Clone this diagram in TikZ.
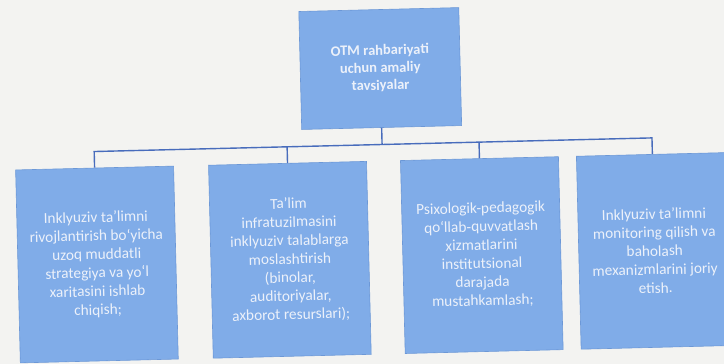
\documentclass[tikz,border=0pt]{standalone}
\usepackage{fontspec}
\setmainfont{Carlito}
\definecolor{bg}{RGB}{243,243,241}
\definecolor{boxfill}{RGB}{128,172,232}
\definecolor{boxedge}{RGB}{108,152,215}
\definecolor{linkblue}{RGB}{72,108,188}
\definecolor{txt}{RGB}{236,241,250}
\tikzset{
  box/.style={draw=boxedge, line width=0.6pt, fill=boxfill, text=txt, align=center, inner sep=1pt},
  topbox/.style={box, minimum width=160pt, minimum height=118pt, font=\bfseries\fontsize{14.5}{17.5}\selectfont},
  childbox/.style={box, minimum width=158pt, minimum height=193pt, font=\fontsize{15.3}{18.5}\selectfont},
  link/.style={draw=linkblue, line width=1.4pt}
}
\begin{document}
\begin{tikzpicture}[x=1pt,y=1pt]
\fill[bg] (0,0) rectangle (724,-364);
\useasboundingbox (0,0) rectangle (724,-364);
\begin{scope}[rotate around={1.4:(362,-182)}, transform shape]
\node[topbox] (top) at (383,-69) {OTM rahbariyati\\uchun amaliy\\tavsiyalar};
\node[childbox] (c1) at (95,-258) {Inklyuziv ta’limni\\rivojlantirish bo‘yicha\\uzoq muddatli\\strategiya va yo‘l\\xaritasini ishlab\\chiqish;};
\node[childbox] (c2) at (288,-258) {Ta’lim\\infratuzilmasini\\inklyuziv talablarga\\moslashtirish\\(binolar,\\auditoriyalar,\\axborot resurslari);};
\node[childbox] (c3) at (480,-258) {Psixologik-pedagogik\\qo‘llab-quvvatlash\\xizmatlarini\\institutsional\\darajada\\mustahkamlash;};
\node[childbox, minimum width=152pt] (c4) at (653,-258) {Inklyuziv ta’limni\\monitoring qilish va\\baholash\\mexanizmlarini joriy\\etish.};
\coordinate (bus) at (0,-145);
\draw[link] (top.south) -- (top.south |- bus);
\draw[link] (c1.north) -- (c1.north |- bus) -- (c4.north |- bus) -- (c4.north);
\draw[link] (c2.north) -- (c2.north |- bus);
\draw[link] (c3.north) -- (c3.north |- bus);
\end{scope}
\end{tikzpicture}
\end{document}
